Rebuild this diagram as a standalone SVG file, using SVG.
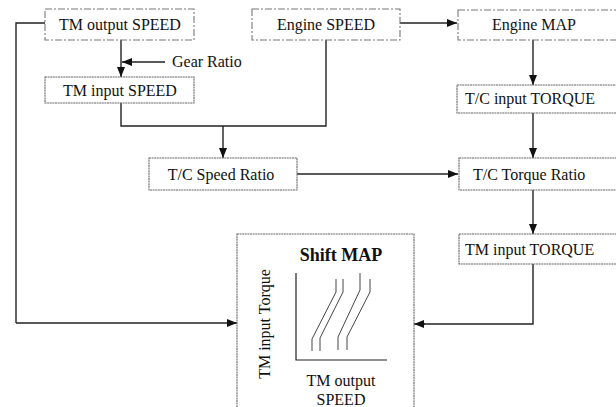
<svg xmlns="http://www.w3.org/2000/svg" width="616" height="407" viewBox="0 0 616 407">
<defs>
<marker id="ah" markerWidth="10" markerHeight="8" refX="10" refY="4" orient="auto" markerUnits="userSpaceOnUse">
<path d="M0,0 L10,4 L0,8 Z" fill="#111"/>
</marker>
<style>
text{font-family:"Liberation Serif","Times New Roman",serif;font-size:16px;fill:#111}
.c{text-anchor:middle}
.dash{fill:#fff;stroke:#777;stroke-width:1.1;stroke-dasharray:7,2,2,2}
.box{fill:#fff;stroke:#666;stroke-width:1.1;stroke-dasharray:2,0.6}
.ln{fill:none;stroke:#222;stroke-width:1.4}
.arr{fill:none;stroke:#222;stroke-width:1.4;marker-end:url(#ah)}
.crv{fill:none;stroke:#444;stroke-width:1}
</style>
</defs>
<rect width="616" height="407" fill="#fff"/>
<g id="connectors">
<path class="ln" d="M45,23 H16 V323"/>
<path class="arr" d="M16,323 H237"/>
<path class="arr" d="M121,40 V77"/>
<path class="arr" d="M165,62 H122"/>
<path class="ln" d="M121,103 V126 H326 V40"/>
<path class="arr" d="M223,126 V158"/>
<path class="arr" d="M400,23 H457"/>
<path class="arr" d="M533,40 V85"/>
<path class="arr" d="M533,113 V158"/>
<path class="arr" d="M297,174 H458"/>
<path class="arr" d="M533,190 V234"/>
<path class="ln" d="M533,264 V324 H424"/>
<path class="arr" d="M425,324 H414"/>
</g>
<g id="tm-output-speed">
<rect class="dash" x="45" y="9" width="149" height="31"/>
<text class="c" x="120" y="30">TM output SPEED</text>
</g>
<g id="engine-speed">
<rect class="dash" x="252" y="9" width="148" height="31"/>
<text class="c" x="326" y="30">Engine SPEED</text>
</g>
<g id="engine-map">
<rect class="dash" x="458" y="10" width="162" height="30"/>
<text class="c" x="534" y="30">Engine MAP</text>
</g>
<g id="gear-ratio">
<text x="172" y="67">Gear Ratio</text>
</g>
<g id="tm-input-speed">
<rect class="box" x="45" y="77" width="149" height="26"/>
<text class="c" x="120" y="96">TM input SPEED</text>
</g>
<g id="tc-input-torque">
<rect class="box" x="457" y="85" width="163" height="28"/>
<text x="465" y="104">T/C input TORQUE</text>
</g>
<g id="tc-speed-ratio">
<rect class="box" x="149" y="158" width="148" height="32"/>
<text class="c" x="221" y="180">T/C Speed Ratio</text>
</g>
<g id="tc-torque-ratio">
<rect class="box" x="459" y="158" width="161" height="32"/>
<text x="473" y="180">T/C Torque Ratio</text>
</g>
<g id="tm-input-torque">
<rect class="box" x="459" y="234" width="161" height="30"/>
<text x="465" y="255">TM input TORQUE</text>
</g>
<g id="shift-map">
<rect class="box" x="237" y="234" width="177" height="180"/>
<text class="c" x="341" y="261" style="font-weight:bold;font-size:18px">Shift MAP</text>
<text class="c" transform="translate(270,324) rotate(-90)">TM input Torque</text>
<path class="ln" d="M296,273 V360 H387" style="stroke-width:1.2"/>
<path class="crv" d="M312,351 V339 L336,292 V279"/>
<path class="crv" d="M320,351 V338 L343,292 V279"/>
<path class="crv" d="M338,350 V337 L360,290 V273"/>
<path class="crv" d="M347,350 V337 L370,292 V279"/>
<text class="c" x="341" y="386">TM output</text>
<text class="c" x="341" y="405">SPEED</text>
</g>
</svg>
